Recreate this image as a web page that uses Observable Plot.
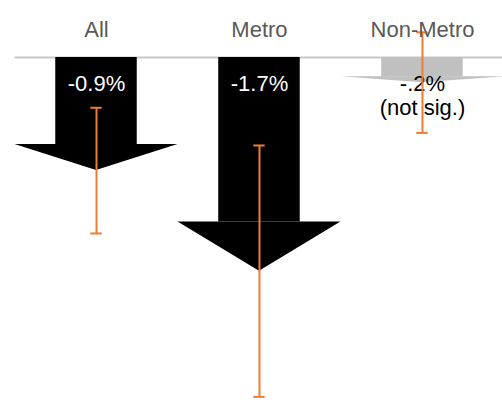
<!DOCTYPE html>
<html>
<head>
<meta charset="utf-8">
<script src="https://cdn.jsdelivr.net/npm/d3@7"></script>
<script src="https://cdn.jsdelivr.net/npm/@observablehq/plot@0.6"></script>
<style>
  html, body { margin: 0; padding: 0; background: #fff; }
  #chart svg { display: block; font-family: "Liberation Sans", Arial, sans-serif; }
</style>
</head>
<body>
<div id="chart"></div>
<script>
// ---- data ----
const categories = ["All", "Metro", "Non-Metro"];
const changes = [-0.9, -1.7, -0.2];
const ciLow = [-1.4, -2.7, -0.6];
const ciHigh = [-0.4, -0.7, 0.2];
const valueLabels = ["-0.9%", "-1.7%", "-.2%\n(not sig.)"];
const significant = [true, true, false];

// ---- derived tables ----
const neckFrac = 0.77;     // where the arrow head begins, as a fraction of the arrow length
const shaftHalf = 0.25;    // half width of shaft, in category units
const headHalf = 0.5;      // half width of head, in category units

const rows = categories.map((c, i) => ({
  i, c,
  v: changes[i],
  neck: changes[i] * neckFrac,
  lo: ciLow[i],
  hi: ciHigh[i],
  label: valueLabels[i],
  fill: significant[i] ? "#000000" : "#c0c0c0",
  textFill: significant[i] ? "#ffffff" : "#000000"
}));

const headPts = rows.flatMap(r => [
  {i: r.i, x: r.i - headHalf, y1: r.neck, y2: r.neck, fill: r.fill},
  {i: r.i, x: r.i,            y1: r.neck, y2: r.v,    fill: r.fill},
  {i: r.i, x: r.i + headHalf, y1: r.neck, y2: r.neck, fill: r.fill}
]);

const orange = "#ED7D31";
const capHalf = 0.035;

const chart = Plot.plot({
  width: 502,
  height: 400,
  marginTop: 0,
  marginBottom: 0,
  marginLeft: 0,
  marginRight: 0,
  x: {type: "linear", domain: [-0.589, 2.491], axis: null},
  y: {type: "linear", domain: [-2.729, 0.4535], axis: null},
  color: {type: "identity"},
  style: {fontFamily: "'Liberation Sans', Arial, sans-serif", background: "#fff"},
  marks: [
    Plot.ruleY([0], {x1: -0.5, x2: 2.6, stroke: "#c8c8c8", strokeWidth: 2}),
    Plot.rect(rows, {x1: d => d.i - shaftHalf, x2: d => d.i + shaftHalf, y1: 0, y2: "neck", fill: "fill"}),
    Plot.areaY(headPts, {x: "x", y1: "y1", y2: "y2", z: "i", fill: "fill", curve: "linear"}),
    Plot.text(rows, {x: "i", y: 0, text: "label", fill: "textFill", fontSize: 22, lineAnchor: "top", dy: 16, lineHeight: 1.1}),
    Plot.ruleX(rows, {x: "i", y1: "lo", y2: "hi", stroke: orange, strokeWidth: 2}),
    Plot.ruleY(rows, {y: "lo", x1: d => d.i - capHalf, x2: d => d.i + capHalf, stroke: orange, strokeWidth: 2}),
    Plot.ruleY(rows, {y: "hi", x1: d => d.i - capHalf, x2: d => d.i + capHalf, stroke: orange, strokeWidth: 2}),
    Plot.text(rows, {x: "i", text: "c", frameAnchor: "top", dy: 21, fontSize: 22, fill: "#595959"})
  ]
});
document.getElementById("chart").appendChild(chart);
</script>
</body>
</html>
